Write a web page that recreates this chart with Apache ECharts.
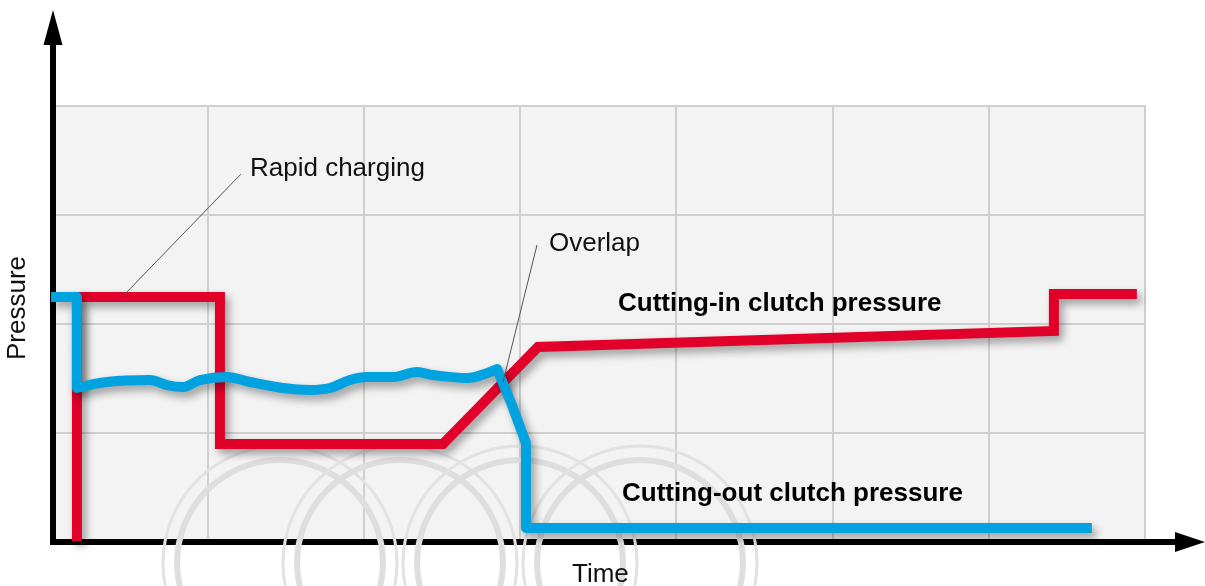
<!DOCTYPE html>
<html>
<head>
<meta charset="utf-8">
<script src="https://cdn.jsdelivr.net/npm/echarts@6/dist/echarts.min.js"></script>
<style>
html,body{margin:0;padding:0;background:#fff;}
#chart{width:1205px;height:586px;}
</style>
</head>
<body>
<div id="chart"></div>
<script>
// ---- data (time units = grid columns, pressure units = grid rows) ----
const xTicks = [0, 1, 2, 3, 4, 5, 6, 7];
const yTicks = [0, 1, 2, 3, 4];

// Cutting-in clutch pressure (red)
const cuttingIn = [
  [0.166, 0], [0.166, 2.244], [1.081, 2.244], [1.081, 0.892], [2.508, 0.892],
  [3.116, 1.784], [6.417, 1.931], [6.417, 2.271], [6.948, 2.271]
];

// Cutting-out clutch pressure (blue), in three parts
const cuttingOutStart = [[0, 2.244], [0.166, 2.244], [0.166, 1.407]];
const cuttingOutWave = [
  [0.166, 1.407], [0.358, 1.462], [0.633, 1.48], [0.742, 1.434], [0.845, 1.416], [0.953, 1.48],
  [1.126, 1.508], [1.273, 1.462], [1.484, 1.407], [1.657, 1.389], [1.785, 1.407],
  [1.913, 1.48], [2.022, 1.508], [2.188, 1.508], [2.342, 1.554], [2.444, 1.526],
  [2.662, 1.499], [2.854, 1.582]
];
const cuttingOutDrop = [[2.854, 1.582], [2.949, 1.251], [3.039, 0.901], [3.039, 0.12], [6.66, 0.12]];

const labels = {
  x: 'Time', y: 'Pressure', rapid: 'Rapid charging', overlap: 'Overlap',
  cin: 'Cutting-in clutch pressure', cout: 'Cutting-out clutch pressure'
};

// ---- chart ----
const RED = '#e1002a';
const BLUE = '#00a3e0';
const FONT = '"Liberation Sans", Arial, Helvetica, sans-serif';
const chart = echarts.init(document.getElementById('chart'), null, {renderer: 'canvas'});

const lineShadow = {shadowColor: 'rgba(0,0,0,0.36)', shadowBlur: 8, shadowOffsetX: 4, shadowOffsetY: 5};

function ring(cx, cy) {
  return [
    {type: 'circle', z: 1, silent: true, shape: {cx: cx, cy: cy, r: 117},
     style: {fill: 'none', stroke: '#e2e2e2', lineWidth: 3}},
    {type: 'circle', z: 1, silent: true, shape: {cx: cx, cy: cy, r: 103},
     style: {fill: 'none', stroke: '#dedede', lineWidth: 6}}
  ];
}

const ringCenters = [[280, 563], [400, 563], [520, 563], [640, 563]];
let ringEls = [];
ringCenters.forEach(c => { ringEls = ringEls.concat(ring(c[0], c[1])); });

function blueSeries(data, smooth, cap) {
  return {type: 'line', name: labels.cout, xAxisIndex: 0, yAxisIndex: 0, data: data,
    showSymbol: false, symbol: 'none', z: 4, clip: false, smooth: smooth,
    lineStyle: Object.assign({color: BLUE, width: 10, join: 'round', cap: cap}, lineShadow)};
}

const option = {
  animation: false,
  backgroundColor: '#ffffff',
  grid: [
    {left: 51, right: 60, top: 106, bottom: 45, show: true, backgroundColor: '#f3f3f3',
     borderColor: '#cfcfcf', borderWidth: 2},
    {left: 53, right: 15, top: 27.5, bottom: 44, show: false}
  ],
  xAxis: [
    {type: 'value', gridIndex: 0, min: xTicks[0], max: xTicks[xTicks.length - 1], interval: 1,
     axisLine: {show: false}, axisTick: {show: false}, axisLabel: {show: false},
     splitLine: {show: true, lineStyle: {color: '#cfcfcf', width: 2}}},
    {type: 'value', gridIndex: 1, min: 0, max: 1,
     axisLine: {show: true, onZero: false, symbol: ['none', 'triangle'], symbolSize: [20, 30],
       lineStyle: {color: '#000', width: 6, cap: 'square'}},
     axisTick: {show: false}, axisLabel: {show: false}, splitLine: {show: false}}
  ],
  yAxis: [
    {type: 'value', gridIndex: 0, min: yTicks[0], max: yTicks[yTicks.length - 1], interval: 1,
     axisLine: {show: false}, axisTick: {show: false}, axisLabel: {show: false},
     splitLine: {show: true, lineStyle: {color: '#cfcfcf', width: 2}}},
    {type: 'value', gridIndex: 1, min: 0, max: 1,
     axisLine: {show: true, onZero: false, symbol: ['none', 'triangle'], symbolSize: [19, 35],
       lineStyle: {color: '#000', width: 6, cap: 'square'}},
     axisTick: {show: false}, axisLabel: {show: false}, splitLine: {show: false}}
  ],
  graphic: ringEls.concat([
    {type: 'line', z: 20, silent: true, shape: {x1: 241, y1: 174, x2: 125, y2: 294},
     style: {stroke: '#555', lineWidth: 1}},
    {type: 'line', z: 20, silent: true, shape: {x1: 537, y1: 245, x2: 503, y2: 382},
     style: {stroke: '#555', lineWidth: 1}},
    {type: 'text', z: 20, x: 250, y: 169,
     style: {text: labels.rapid, font: '26px ' + FONT, fill: '#111', textAlign: 'left', verticalAlign: 'middle'}},
    {type: 'text', z: 20, x: 549, y: 244,
     style: {text: labels.overlap, font: '26px ' + FONT, fill: '#111', textAlign: 'left', verticalAlign: 'middle'}},
    {type: 'text', z: 20, x: 618, y: 304,
     style: {text: labels.cin, font: 'bold 26px ' + FONT, fill: '#000', textAlign: 'left', verticalAlign: 'middle'}},
    {type: 'text', z: 20, x: 622, y: 494,
     style: {text: labels.cout, font: 'bold 26px ' + FONT, fill: '#000', textAlign: 'left', verticalAlign: 'middle'}},
    {type: 'text', z: 20, x: 572, y: 575,
     style: {text: labels.x, font: '26px ' + FONT, fill: '#111', textAlign: 'left', verticalAlign: 'middle'}},
    {type: 'text', z: 20, x: 18, y: 308, rotation: Math.PI / 2,
     style: {text: labels.y, font: '26px ' + FONT, fill: '#111', textAlign: 'center', verticalAlign: 'middle'}}
  ]),
  series: [
    {type: 'line', name: labels.cin, xAxisIndex: 0, yAxisIndex: 0, data: cuttingIn,
     showSymbol: false, symbol: 'none', z: 3, clip: false,
     lineStyle: Object.assign({color: RED, width: 10, join: 'miter', cap: 'butt'}, lineShadow)},
    blueSeries(cuttingOutStart, false, 'butt'),
    blueSeries(cuttingOutWave, 0.35, 'round'),
    blueSeries(cuttingOutDrop, false, 'butt')
  ]
};
chart.setOption(option);
</script>
</body>
</html>
